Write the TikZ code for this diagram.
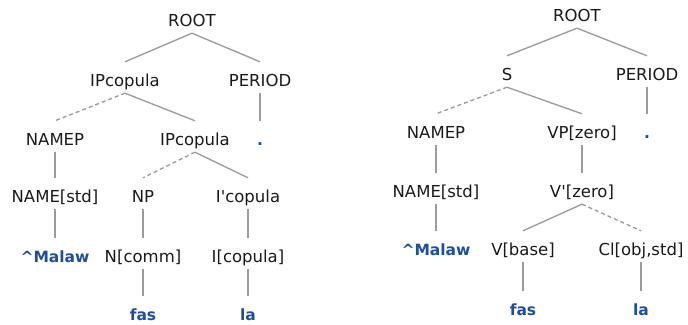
\documentclass[tikz,border=0pt]{standalone}
\usepackage{fontspec}
\setmainfont{DejaVu Sans}
\definecolor{txt}{HTML}{1A1A1A}
\definecolor{leaf}{HTML}{1F4E9A}
\definecolor{edgec}{HTML}{9C9C9C}
\begin{document}
\begin{tikzpicture}[x=1pt,y=-1pt,
  cat/.style={anchor=base,inner xsep=0pt,inner ysep=0pt,text height=24pt,text depth=7pt,text=txt,font=\fontsize{16.5}{18}\selectfont},
  wrd/.style={cat,text=leaf,font=\fontsize{15.5}{18}\selectfont\bfseries},
  br/.style={draw=edgec,line width=1.35pt},
  dbr/.style={br,dash pattern=on 4pt off 3pt}]
\useasboundingbox (0,0) rectangle (688,324);
% left tree
\node[cat] (lroot) at (192,26) {ROOT};
\node[cat] (lip1) at (125,86) {IPcopula};
\node[cat] (lper) at (260,86) {PERIOD};
\node[cat] (lnamep) at (55,145) {NAMEP};
\node[cat] (lip2) at (195,145) {IPcopula};
\node[wrd] (ldot) at (260,145) {.};
\node[cat] (lname) at (55,202) {NAME[std]};
\node[cat] (lnp) at (143,202) {NP};
\node[cat] (libar) at (248,202) {I\textquotesingle copula};
\node[wrd] (lmal) at (55,262) {\textasciicircum Malaw};
\node[cat] (ln) at (143,262) {N[comm]};
\node[cat] (li) at (248,262) {I[copula]};
\node[wrd] (lfas) at (143,320) {fas};
\node[wrd] (lla) at (248,320) {la};
\draw[br] (lroot.south) -- (lip1.north);
\draw[br] (lroot.south) -- (lper.north);
\draw[br] (lper.south) -- (ldot.north);
\draw[dbr] (lip1.south) -- (lnamep.north);
\draw[br] (lip1.south) -- (lip2.north);
\draw[br] (lnamep.south) -- (lname.north);
\draw[dbr] (lip2.south) -- (lnp.north);
\draw[br] (lip2.south) -- (libar.north);
\draw[br] (lname.south) -- (lmal.north);
\draw[br] (lnp.south) -- (ln.north);
\draw[br] (libar.south) -- (li.north);
\draw[br] (ln.south) -- (lfas.north);
\draw[br] (li.south) -- (lla.north);
% right tree
\node[cat] (rroot) at (577,21) {ROOT};
\node[cat] (rs) at (507,80) {S};
\node[cat] (rper) at (647,80) {PERIOD};
\node[cat] (rnamep) at (436,138) {NAMEP};
\node[cat] (rvp) at (582,138) {VP[zero]};
\node[wrd] (rdot) at (647,138) {.};
\node[cat] (rname) at (436,197) {NAME[std]};
\node[cat] (rvbar) at (582,197) {V\textquotesingle[zero]};
\node[wrd] (rmal) at (436,255) {\textasciicircum Malaw};
\node[cat] (rv) at (523,255) {V[base]};
\node[cat] (rcl) at (641,255) {Cl[obj,std]};
\node[wrd] (rfas) at (523,315) {fas};
\node[wrd] (rla) at (641,315) {la};
\draw[br] (rroot.south) -- (rs.north);
\draw[br] (rroot.south) -- (rper.north);
\draw[br] (rper.south) -- (rdot.north);
\draw[dbr] (rs.south) -- (rnamep.north);
\draw[br] (rs.south) -- (rvp.north);
\draw[br] (rnamep.south) -- (rname.north);
\draw[br] (rvp.south) -- (rvbar.north);
\draw[br] (rname.south) -- (rmal.north);
\draw[br] (rvbar.south) -- (rv.north);
\draw[dbr] (rvbar.south) -- (rcl.north);
\draw[br] (rv.south) -- (rfas.north);
\draw[br] (rcl.south) -- (rla.north);
\end{tikzpicture}
\end{document}
